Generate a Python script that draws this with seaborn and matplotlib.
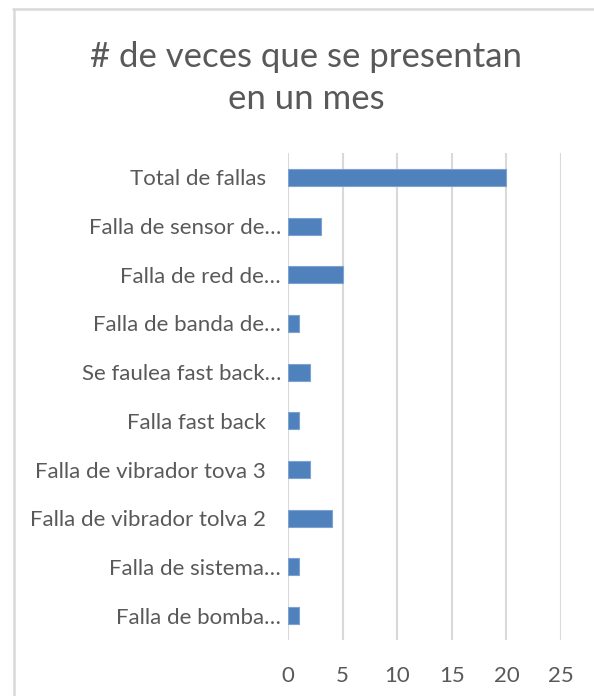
import matplotlib
matplotlib.use("Agg")
import matplotlib.pyplot as plt
import matplotlib.transforms as mtransforms
import seaborn as sns
import pandas as pd
from matplotlib.lines import Line2D

categories = [
    "Total de fallas",
    "Falla de sensor de…",
    "Falla de red de…",
    "Falla de banda de…",
    "Se faulea fast back…",
    "Falla fast back",
    "Falla de vibrador tova 3",
    "Falla de vibrador tolva 2",
    "Falla de sistema…",
    "Falla de bomba…",
]
values = [20, 3, 5, 1, 2, 1, 2, 4, 1, 1]
x_ticks = [0, 5, 10, 15, 20, 25]
title = "# de veces que se presentan\nen un mes"

df = pd.DataFrame({"categoria": categories, "veces": values})

sns.set_theme(style="white")
plt.rcParams["font.family"] = ["Lato", "DejaVu Sans"]

W, H = 594, 696
fig = plt.figure(figsize=(W / 100, H / 100), dpi=100)
ax = fig.add_axes([288 / W, 1 - 640 / H, (561 - 288) / W, (640 - 153) / H])

text_color = "#595959"
sns.barplot(data=df, y="categoria", x="veces", orient="h", color="#4F81BD",
            saturation=1, width=0.35, edgecolor="#7FA3D0", linewidth=0.8,
            ax=ax, zorder=3)

ax.set_xlim(0, 25)
ax.set_ylim(9.5, -0.5)
ax.set_xticks(x_ticks)
ax.set_xticklabels([str(t) for t in x_ticks])
ax.set_xlabel("")
ax.set_ylabel("")
for s in ax.spines.values():
    s.set_visible(False)
ax.grid(axis="x", color="#D9D9D9", linewidth=1.5, zorder=0)
ax.grid(axis="y", visible=False)
ax.tick_params(axis="both", length=0, colors=text_color, labelsize=16)
ax.tick_params(axis="x", pad=19)
ax.tick_params(axis="y", pad=5)
for lab in ax.get_xticklabels() + ax.get_yticklabels():
    lab.set_color(text_color)
# non-truncated labels sit a bit further from the axis (as in the original)
for lab in ax.get_yticklabels():
    if not lab.get_text().endswith("…"):
        lab.set_transform(lab.get_transform() +
                          mtransforms.ScaledTranslation(-15 / 100, 0, fig.dpi_scale_trans))

fig.text(306 / W, 1 - 78 / H, title, ha="center", va="center",
         fontsize=25, color=text_color, linespacing=1.38)

frame_kw = dict(transform=fig.transFigure, color="#D9D9D9", linewidth=1.8)
fig.lines.append(Line2D([13 / W, 1.0], [1 - 8.5 / H, 1 - 8.5 / H], **frame_kw))
fig.lines.append(Line2D([13.5 / W, 13.5 / W], [0, 1 - 8.5 / H], **frame_kw))

fig.savefig("out.png", dpi=100)
